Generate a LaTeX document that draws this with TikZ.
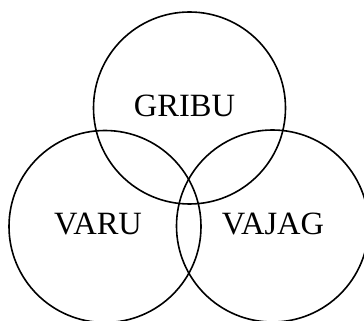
\documentclass[tikz,border=0pt]{standalone}
\usepackage{fontspec}
\setmainfont{Liberation Serif}
\begin{document}
\begin{tikzpicture}[x=1pt,y=1pt,
  ring/.style={draw=black, line width=1.6pt, circle, minimum size=192pt, inner sep=0pt},
  lbl/.style={font=\fontsize{32.5}{32.5}\selectfont, inner sep=0pt}]
\useasboundingbox (0,0) rectangle (364,321);
\node[ring] (top) at (189.5,213) {};
\node[ring] (left) at (105,94.5) {};
\node[ring] (right) at (272.5,95) {};
\node[lbl] (g) at (184.5,215) {GRIBU};
\node[lbl] (v) at (98,97) {VARU};
\node[lbl] (j) at (273,97) {VAJAG};
\end{tikzpicture}
\end{document}
